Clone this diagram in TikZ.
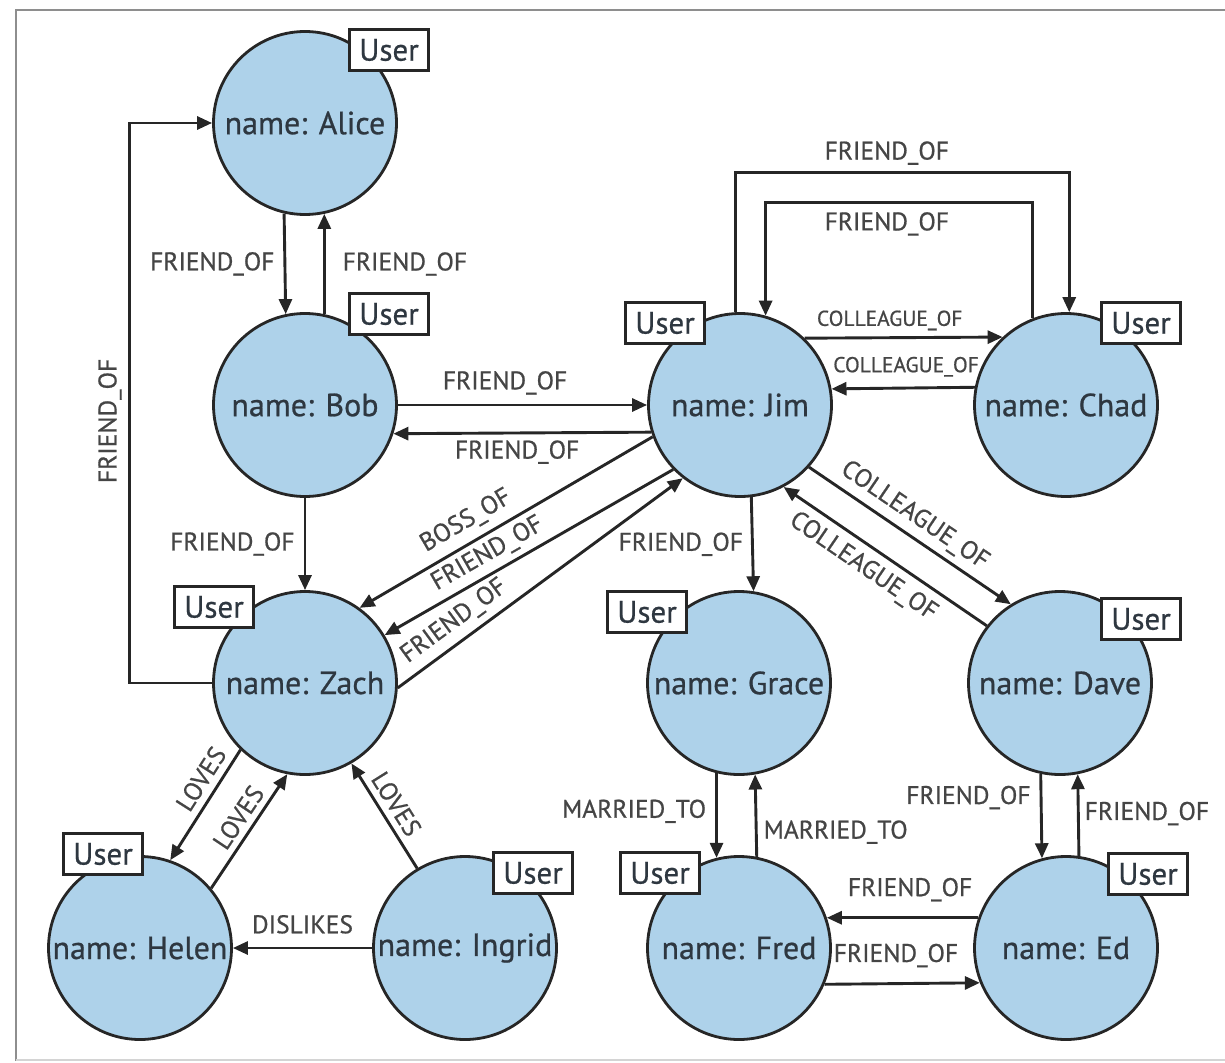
\documentclass[tikz,border=0pt]{standalone}
\usepackage{fontspec}
\setmainfont{PT Sans}[FakeBold=0.7]
\newfontfamily\basefont{PT Sans}[FakeBold=0.7]
\usetikzlibrary{arrows.meta,calc}
\definecolor{nodefill}{HTML}{AED2EA}
\definecolor{edgec}{HTML}{262626}
\definecolor{txtc}{HTML}{2E3740}
\definecolor{lblc}{HTML}{454545}
\definecolor{framec}{HTML}{8E8E8E}
\definecolor{framelt}{HTML}{D4D4D4}
\begin{document}
\begin{tikzpicture}[x=1pt,y=-1pt,
  person/.style={circle, draw=edgec, line width=2.8pt, fill=nodefill, minimum size=183pt, inner sep=0pt, text=txtc, font=\basefont\fontsize{32}{36}\selectfont},
  userbox/.style={draw=edgec, line width=2.5pt, fill=white, minimum width=79pt, minimum height=41pt, inner sep=0pt, text=txtc, font=\basefont\fontsize{31}{34}\selectfont},
  arr/.style={draw=edgec, line width=2.9pt, -{Triangle[length=15pt,width=13pt]}},
  lbl/.style={text=lblc, font=\basefont\fontsize{25.5}{27}\selectfont, inner sep=3pt},
  slbl/.style={text=lblc, font=\basefont\fontsize{21.5}{23}\selectfont, inner sep=2pt},
]
\useasboundingbox (0,0) rectangle (1225,1062);
\draw[framec, line width=2.5pt] (1226,10) -- (16,10) -- (16,1061);
\draw[framelt, line width=2pt] (16,1060) -- (1226,1060);

% people
\node[person] (alice)  at (305,123) {name: Alice};
\node[person] (bob)    at (305,405) {name: Bob};
\node[person] (zach)   at (305,683) {name: Zach};
\node[person] (helen)  at (140,948) {name: Helen};
\node[person] (ingrid) at (465,948) {name: Ingrid};
\node[person] (jim)    at (740,405) {name: Jim};
\node[person] (chad)   at (1066,405) {name: Chad};
\node[person] (grace)  at (739,683) {name: Grace};
\node[person] (dave)   at (1060,683) {name: Dave};
\node[person] (fred)   at (739,948) {name: Fred};
\node[person] (ed)     at (1066,948) {name: Ed};

% edges
\draw[arr] (alice.257.5) -- node[lbl, left=6pt] {FRIEND\_OF} (bob.102.5);
\draw[arr] (bob.78) -- node[lbl, right=14pt] {FRIEND\_OF} (alice.282);
\draw[arr] (zach.west) -- ++(-83,0) |- node[lbl, pos=0.234, rotate=90, anchor=south, inner sep=6pt] {FRIEND\_OF} (alice.west);
\draw[arr] (bob.south) -- node[lbl, left=6pt] {FRIEND\_OF} (zach.north);
\draw[arr] (bob.east) -- node[lbl, above=6pt, pos=0.43] {FRIEND\_OF} (jim.west);
\draw[arr] (jim.197.1) -- node[lbl, below=3pt, pos=0.52] {FRIEND\_OF} (bob.342.9);
\draw[arr] (jim.200.1) -- node[lbl, sloped, above=5pt, pos=0.6] {BOSS\_OF} (zach.54.1);
\draw[arr] (jim.224.2) -- node[lbl, sloped, above=3pt, pos=0.61] {FRIEND\_OF} (zach.31.4);
\draw[arr] (zach.357.5) -- node[lbl, sloped, above=4pt, pos=0.24] {FRIEND\_OF} (jim.232.4);

\draw[arr] (jim.93.7) -- ++(0,-140) -| node[lbl, pos=0.227, above=3pt] {FRIEND\_OF} (chad.88.8);
\draw[arr] (chad.111.7) -- ++(0,-115.5) -| node[lbl, pos=0.273, below=5pt] {FRIEND\_OF} (jim.74.2);
\draw[arr] (jim.46.7) -- node[slbl, above=4pt, pos=0.43] {COLLEAGUE\_OF} (chad.133.3);
\draw[arr] (chad.169.4) -- node[slbl, above=8pt, pos=0.48] {COLLEAGUE\_OF} (jim.10.6);

\draw[arr] (jim.277.5) -- node[lbl, left=5pt] {FRIEND\_OF} (grace.81.9);
\draw[arr] (jim.318.8) -- node[lbl, sloped, above=3pt, pos=0.47] {COLLEAGUE\_OF} (dave.122.7);
\draw[arr] (dave.142.1) -- node[lbl, sloped, below=5pt, pos=0.55] {COLLEAGUE\_OF} (jim.298.4);

\draw[arr] (grace.256.5) -- node[lbl, left=6pt, pos=0.45] {MARRIED\_TO} (fred.104.5);
\draw[arr] (fred.79.4) -- node[lbl, right=3pt, pos=0.3] {MARRIED\_TO} (grace.280.6);
\draw[arr] (dave.258.1) -- node[lbl, left=6pt, pos=0.28] {FRIEND\_OF} (ed.105.8);
\draw[arr] (ed.82.5) -- node[lbl, right=2pt, pos=0.52] {FRIEND\_OF} (dave.281.3);
\draw[arr] (ed.161) -- node[lbl, above=12pt, pos=0.45] {FRIEND\_OF} (fred.19);
\draw[arr] (fred.337.6) -- node[lbl, above=12pt, pos=0.46] {FRIEND\_OF} (ed.202.4);

\draw[arr] (zach.226.3) -- node[lbl, sloped, above=4pt, pos=0.35] {LOVES} (helen.71.4);
\draw[arr] (helen.40) -- node[lbl, sloped, above=3pt, pos=0.54] {LOVES} (zach.259.3);
\draw[arr] (ingrid.121.5) -- node[lbl, sloped, above=3pt, pos=0.53] {LOVES} (zach.300.9);
\draw[arr] (ingrid.west) -- node[lbl, above=10pt] {DISLIKES} (helen.east);

% labels
\node[userbox] (ualice)  at (389,50)  {User};
\node[userbox] (ubob)    at (389,314) {User};
\node[userbox] (uzach)   at (214,607) {User};
\node[userbox] (uhelen)  at (103,854) {User};
\node[userbox] (uingrid) at (533,873) {User};
\node[userbox] (ujim)    at (665,323) {User};
\node[userbox] (uchad)   at (1141,323) {User};
\node[userbox] (ugrace)  at (647,612) {User};
\node[userbox] (udave)   at (1141,619) {User};
\node[userbox] (ufred)   at (660,873) {User};
\node[userbox] (ued)     at (1148,874) {User};
\end{tikzpicture}
\end{document}
